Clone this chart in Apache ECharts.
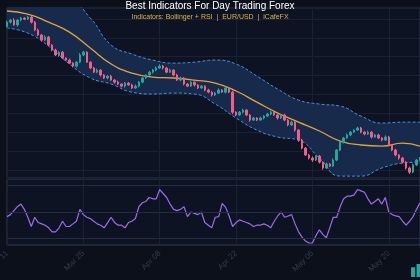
<!DOCTYPE html>
<html lang="en">
<head>
<meta charset="UTF-8">
<title>Best Indicators For Day Trading Forex</title>
<script src="https://cdn.jsdelivr.net/npm/echarts@6/dist/echarts.min.js"></script>
<style>
    html, body { margin: 0; padding: 0; background: #0b101b; }
    #chart { width: 420px; height: 280px; }
</style>
</head>
<body>
<div id="chart"></div>
<script>
// x axis: one label every 22 candles
var dateTicks = ['Mar 11', 'Mar 25', 'Apr 08', 'Apr 22', 'May 06', 'May 20'];
var tickStep = 22;

// EUR/USD closes
var closes = [
    1.1383, 1.1394, 1.1368, 1.1394, 1.1405, 1.1399, 1.1410, 1.1383, 1.1341, 1.1315,
    1.1288, 1.1304, 1.1262, 1.1235, 1.1209, 1.1224, 1.1193, 1.1182, 1.1166, 1.1150,
    1.1171, 1.1209, 1.1224, 1.1171, 1.1140, 1.1118, 1.1129, 1.1103, 1.1087, 1.1097,
    1.1076, 1.1065, 1.1055, 1.1044, 1.1060, 1.1050, 1.1034, 1.1044, 1.1065, 1.1087,
    1.1103, 1.1118, 1.1129, 1.1140, 1.1150, 1.1140, 1.1118, 1.1129, 1.1103, 1.1076,
    1.1087, 1.1055, 1.1044, 1.1065, 1.1050, 1.1034, 1.1044, 1.1023, 1.1012, 1.0997,
    1.1007, 1.1023, 1.1012, 1.1034, 1.1012, 1.0906, 1.0891, 1.0906, 1.0917, 1.0891,
    1.0864, 1.0875, 1.0864, 1.0875, 1.0885, 1.0896, 1.0906, 1.0891, 1.0875, 1.0891,
    1.0864, 1.0838, 1.0853, 1.0811, 1.0758, 1.0716, 1.0679, 1.0663, 1.0652, 1.0673,
    1.0641, 1.0610, 1.0631, 1.0620, 1.0652, 1.0705, 1.0747, 1.0769, 1.0785, 1.0800,
    1.0811, 1.0822, 1.0800, 1.0790, 1.0800, 1.0774, 1.0785, 1.0769, 1.0758, 1.0774,
    1.0732, 1.0705, 1.0679, 1.0663, 1.0641, 1.0610, 1.0588, 1.0626, 1.0652, 1.0663
];
var firstOpen = 1.1360;
// wick lengths in pips above / below the body
var wickUp = [
    8, 6, 10, 5, 6, 4, 7, 5, 6, 8, 5, 9, 6, 4, 7, 5, 6, 4, 8, 5,
    6, 10, 7, 5, 4, 6, 8, 5, 4, 7, 6, 5, 8, 4, 6, 5, 7, 9, 6, 5,
    4, 7, 6, 8, 10, 6, 5, 7, 4, 6, 8, 5, 6, 7, 4, 5, 6, 4, 7, 5,
    6, 9, 5, 7, 6, 8, 5, 6, 7, 4, 5, 6, 4, 7, 5, 6, 8, 5, 4, 6,
    7, 5, 8, 6, 5, 7, 4, 6, 8, 5, 6, 4, 7, 5, 9, 6, 7, 5, 8, 6,
    4, 7, 6, 5, 8, 6, 5, 7, 4, 9, 6, 5, 7, 4, 6, 5, 8, 7, 6, 5
];
var wickDown = [
    5, 7, 4, 8, 6, 5, 4, 7, 6, 5, 8, 4, 6, 7, 5, 9, 4, 6, 5, 7,
    8, 5, 6, 4, 7, 5, 6, 8, 5, 6, 4, 7, 5, 6, 8, 4, 6, 5, 7, 6,
    5, 4, 7, 6, 5, 8, 6, 4, 7, 5, 6, 7, 5, 4, 8, 6, 5, 7, 6, 8,
    5, 6, 4, 7, 5, 10, 6, 5, 7, 6, 8, 5, 6, 4, 7, 5, 6, 4, 8, 5,
    6, 7, 5, 8, 9, 7, 6, 8, 10, 5, 7, 9, 6, 5, 4, 6, 5, 7, 4, 6,
    5, 4, 6, 7, 5, 8, 4, 6, 7, 5, 8, 6, 7, 9, 6, 8, 10, 5, 6, 4
];

// Bollinger bands, read at every 6th candle
var bandIndex = [0, 6, 12, 18, 24, 30, 36, 42, 48, 54, 60, 66, 72, 78, 84, 90, 96, 102, 108, 114, 119];
var upperBand = [1.1532, 1.1527, 1.1511, 1.1500, 1.1405, 1.1262, 1.1214, 1.1182, 1.1166, 1.1171, 1.1182,
                 1.1161, 1.1097, 1.1028, 1.0970, 1.0949, 1.0938, 1.0885, 1.0848, 1.0853, 1.0853];
var middleBand = [1.1442, 1.1426, 1.1383, 1.1330, 1.1246, 1.1161, 1.1113, 1.1092, 1.1087, 1.1076, 1.1060,
                  1.1018, 1.0959, 1.0901, 1.0853, 1.0806, 1.0753, 1.0732, 1.0726, 1.0742, 1.0726];
var lowerBand = [1.1352, 1.1325, 1.1256, 1.1161, 1.1087, 1.1055, 1.1012, 1.1002, 1.1007, 1.1002, 1.0949,
                 1.0875, 1.0811, 1.0774, 1.0758, 1.0663, 1.0567, 1.0567, 1.0610, 1.0636, 1.0641];

// RSI(14)
var rsi = [
    46.5, 48, 51, 54, 56, 52, 46, 39, 46, 42, 41, 40, 38, 35, 35, 38, 43, 39, 39, 41,
    43, 52, 48, 46, 45, 43, 41, 40, 38, 42, 46, 42, 40, 40, 38, 42, 43, 45, 54, 57,
    58, 61, 60, 60, 67, 64, 61, 56, 52, 51, 52, 54, 46.5, 50, 49, 48, 50, 42, 40, 38,
    46, 46.5, 56.5, 53.5, 47, 39, 42, 44, 43, 42, 41, 39, 40, 40, 41, 40, 38, 43, 47, 50,
    46, 47, 48, 41, 35, 31, 28, 26.5, 26.5, 32, 36.5, 33, 30.5, 38, 46, 46, 54, 60, 62, 62,
    63, 67, 66, 65, 60, 56, 58, 60, 56, 61, 50, 48, 47, 46.5, 43, 40, 43, 46.5, 52, 57
];

var upColor = '#26a69a', downColor = '#ef5f86';
var bandLine = '#4a8fe3', midColor = '#e3a33b', rsiColor = '#9a6ee6';
var gridColor = '#1a2232', borderColor = '#2a3244';

var categories = [], candles = [];
for (var i = 0; i < closes.length; i++) {
    var o = i === 0 ? firstOpen : closes[i - 1];
    var c = closes[i];
    categories.push(String(i));
    candles.push([o, c, Math.min(o, c) - wickDown[i] / 10000, Math.max(o, c) + wickUp[i] / 10000]);
}
function pairs(vals) {
    return bandIndex.map(function (k, j) { return [k, vals[j]]; });
}
var bandFill = bandIndex.map(function (k, j) { return [k, upperBand[j] - lowerBand[j]]; });
function isTick(idx) { return idx % tickStep === 0; }

var myChart = echarts.init(document.getElementById('chart'));
var option = {
    backgroundColor: '#0b101b',
    animation: false,
    title: {
        text: 'Best Indicators For Day Trading Forex',
        subtext: 'Indicators: Bollinger + RSI  |  EUR/USD  |  iCafeFX',
        left: 'center',
        top: -4,
        itemGap: 3,
        textStyle: { color: '#ffffff', fontSize: 10, fontWeight: 'normal' },
        subtextStyle: { color: '#d9b64c', fontSize: 7 }
    },
    legend: {
        left: 406, top: 259,
        itemWidth: 9, itemHeight: 11, itemGap: 4,
        icon: 'path://M1,3H3V10H1ZM6,0H8V10H6Z',
        textStyle: { color: '#9aa3b5', fontSize: 8 },
        data: [{ name: 'EUR/USD', itemStyle: { color: downColor } }]
    },
    grid: [
        { left: 7, right: 0, top: 8, height: 170, outerBoundsMode: 'none', containLabel: false,
          show: true, backgroundColor: '#0d1322', borderColor: borderColor },
        { left: 7, right: 0, top: 179, height: 66, outerBoundsMode: 'none', containLabel: false,
          show: true, backgroundColor: '#0d1322', borderColor: '#323b4e' }
    ],
    xAxis: [
        {
            type: 'category', gridIndex: 0, data: categories, boundaryGap: false,
            axisLine: { show: false }, axisTick: { show: false }, axisLabel: { show: false },
            splitLine: { show: true, interval: function (idx) { return isTick(idx); }, lineStyle: { color: gridColor } }
        },
        {
            type: 'category', gridIndex: 1, data: categories, boundaryGap: false,
            axisLine: { show: false }, axisTick: { show: false },
            axisLabel: {
                color: '#343c4c', fontSize: 8, rotate: 45, margin: 7, padding: [14, 0, 0, 0],
                interval: function (idx) { return isTick(idx); },
                formatter: function (v, idx) { return dateTicks[idx / tickStep] || ''; }
            },
            splitLine: { show: true, interval: function (idx) { return isTick(idx); }, lineStyle: { color: gridColor } }
        }
    ],
    yAxis: [
        {
            type: 'value', gridIndex: 0, min: 1.0557, max: 1.1458, splitNumber: 9,
            axisLine: { show: false }, axisTick: { show: false },
            axisLabel: { show: false },
            splitLine: { lineStyle: { color: gridColor } }
        },
        {
            type: 'value', gridIndex: 1, min: 25, max: 75,
            axisLine: { show: false }, axisTick: { show: false },
            axisLabel: { show: false },
            splitLine: { show: false }
        }
    ],
    series: [
        {
            name: 'lowerFill', type: 'line', stack: 'bb', data: pairs(lowerBand),
            smooth: true, symbol: 'none', silent: true,
            lineStyle: { opacity: 0 }, areaStyle: { opacity: 0 }, z: 1
        },
        {
            name: 'bandFill', type: 'line', stack: 'bb', data: bandFill,
            smooth: true, symbol: 'none', silent: true,
            lineStyle: { opacity: 0 }, areaStyle: { color: '#172a4b', opacity: 1 }, z: 1
        },
        {
            name: 'Upper', type: 'line', data: pairs(upperBand), smooth: true, symbol: 'none',
            lineStyle: { color: bandLine, width: 1, type: [3, 2] }, z: 2
        },
        {
            name: 'Lower', type: 'line', data: pairs(lowerBand), smooth: true, symbol: 'none',
            lineStyle: { color: bandLine, width: 1, type: [3, 2] }, z: 2
        },
        {
            name: 'SMA 20', type: 'line', data: pairs(middleBand), smooth: true, symbol: 'none',
            lineStyle: { color: midColor, width: 1.3 }, z: 3
        },
        {
            name: 'EUR/USD', type: 'candlestick', data: candles, barWidth: 2,
            itemStyle: { color: upColor, color0: downColor, borderColor: upColor, borderColor0: downColor, borderWidth: 1 },
            z: 4
        },
        {
            name: 'RSI', type: 'line', xAxisIndex: 1, yAxisIndex: 1, data: rsi, symbol: 'none',
            lineStyle: { color: rsiColor, width: 1.2 },
            markLine: {
                silent: true, symbol: 'none', label: { show: false },
                lineStyle: { color: '#242c3d', type: 'solid', width: 1 },
                data: [{ yAxis: 70 }, { yAxis: 50 }, { yAxis: 30 }]
            }
        }
    ]
};
myChart.setOption(option);
</script>
</body>
</html>
